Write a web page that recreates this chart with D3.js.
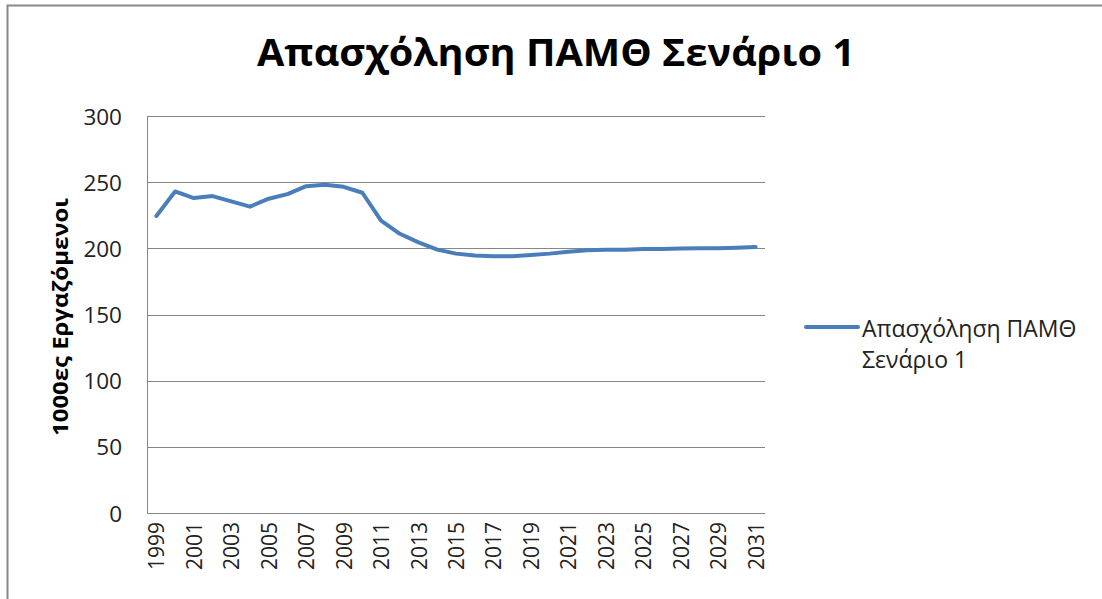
<!DOCTYPE html>
<html>
<head>
<meta charset="utf-8">
<script src="https://cdn.jsdelivr.net/npm/d3@7"></script>
<style>
  body { margin: 0; background: #fff; }
  text { font-family: "Open Sans", "DejaVu Sans", sans-serif; }
</style>
</head>
<body>
<svg id="chart"></svg>
<script>
const width = 1102;
const height = 599;

// data
const years = d3.range(1999, 2032);
const employment = [224.5, 243, 238, 239.5, 235.5, 231.5, 237.5, 241, 247, 248, 246.5, 242,
  221, 211, 204.5, 199, 196, 194.5, 194, 194, 195, 196, 197.5, 198.5, 199, 199, 199.5,
  199.5, 199.8, 200, 200, 200.5, 201];
const yTicks = [0, 50, 100, 150, 200, 250, 300];
const seriesName = 'Απασχόληση ΠΑΜΘ Σενάριο 1';

const svg = d3.select('#chart')
  .attr('width', width)
  .attr('height', height);

// outer chart frame
svg.append('rect')
  .attr('x', 7.5)
  .attr('y', 5.5)
  .attr('width', width + 20)
  .attr('height', height + 20)
  .attr('fill', '#fff')
  .attr('stroke', '#888')
  .attr('stroke-width', 2);

const plot = { left: 147, right: 765, top: 116, bottom: 513 };

const x = d3.scaleBand()
  .domain(years)
  .range([plot.left, plot.right]);

const y = d3.scaleLinear()
  .domain([0, 300])
  .range([plot.bottom, plot.top]);

// gridlines
svg.append('g')
  .selectAll('line')
  .data(yTicks.filter(d => d > 0))
  .enter()
  .append('line')
  .attr('x1', plot.left)
  .attr('x2', plot.right)
  .attr('y1', d => Math.round(y(d)) + 0.5)
  .attr('y2', d => Math.round(y(d)) + 0.5)
  .attr('stroke', '#878787')
  .attr('stroke-width', 1);

// axis lines
svg.append('line')
  .attr('x1', plot.left + 0.5).attr('x2', plot.left + 0.5)
  .attr('y1', plot.top).attr('y2', plot.bottom)
  .attr('stroke', '#878787');
svg.append('line')
  .attr('x1', plot.left).attr('x2', plot.right)
  .attr('y1', plot.bottom + 0.5).attr('y2', plot.bottom + 0.5)
  .attr('stroke', '#878787');

// y tick labels
svg.append('g')
  .selectAll('text')
  .data(yTicks)
  .enter()
  .append('text')
  .attr('x', 122)
  .attr('y', d => y(d))
  .attr('text-anchor', 'end')
  .attr('dominant-baseline', 'central')
  .attr('font-size', 22.5)
  .attr('fill', '#222')
  .text(d => d);

// x tick labels, every other year, rotated
svg.append('g')
  .selectAll('text')
  .data(years.filter((d, i) => i % 2 === 0))
  .enter()
  .append('text')
  .attr('transform', d => `translate(${x(d) + x.bandwidth() / 2},522) rotate(-90)`)
  .attr('text-anchor', 'end')
  .attr('dominant-baseline', 'central')
  .attr('font-size', 21)
  .attr('fill', '#222')
  .text(d => d);

// y axis title
svg.append('text')
  .attr('transform', 'translate(60,317) rotate(-90)')
  .attr('text-anchor', 'middle')
  .attr('dominant-baseline', 'central')
  .attr('font-size', 21)
  .attr('font-weight', 'bold')
  .attr('textLength', 238)
  .attr('lengthAdjust', 'spacingAndGlyphs')
  .text('1000ες Εργαζόμενοι');

// the series
const line = d3.line()
  .x((d, i) => x(years[i]) + x.bandwidth() / 2)
  .y(d => y(d));

svg.append('path')
  .datum(employment)
  .attr('d', line)
  .attr('fill', 'none')
  .attr('stroke', '#4a7ebb')
  .attr('stroke-width', 4)
  .attr('stroke-linejoin', 'round')
  .attr('stroke-linecap', 'round');

// title
svg.append('text')
  .attr('x', 556)
  .attr('y', 66)
  .attr('text-anchor', 'middle')
  .attr('font-size', 38)
  .attr('font-weight', 'bold')
  .attr('textLength', 598)
  .attr('lengthAdjust', 'spacingAndGlyphs')
  .text(seriesName);

// legend
svg.append('line')
  .attr('x1', 806).attr('x2', 858)
  .attr('y1', 327).attr('y2', 327)
  .attr('stroke', '#4a7ebb')
  .attr('stroke-width', 4)
  .attr('stroke-linecap', 'round');

const legendText = svg.append('text')
  .attr('font-size', 23)
  .attr('fill', '#222');
legendText.append('tspan')
  .attr('x', 862).attr('y', 337)
  .text('Απασχόληση ΠΑΜΘ');
legendText.append('tspan')
  .attr('x', 862).attr('y', 368)
  .text('Σενάριο 1');
</script>
</body>
</html>
